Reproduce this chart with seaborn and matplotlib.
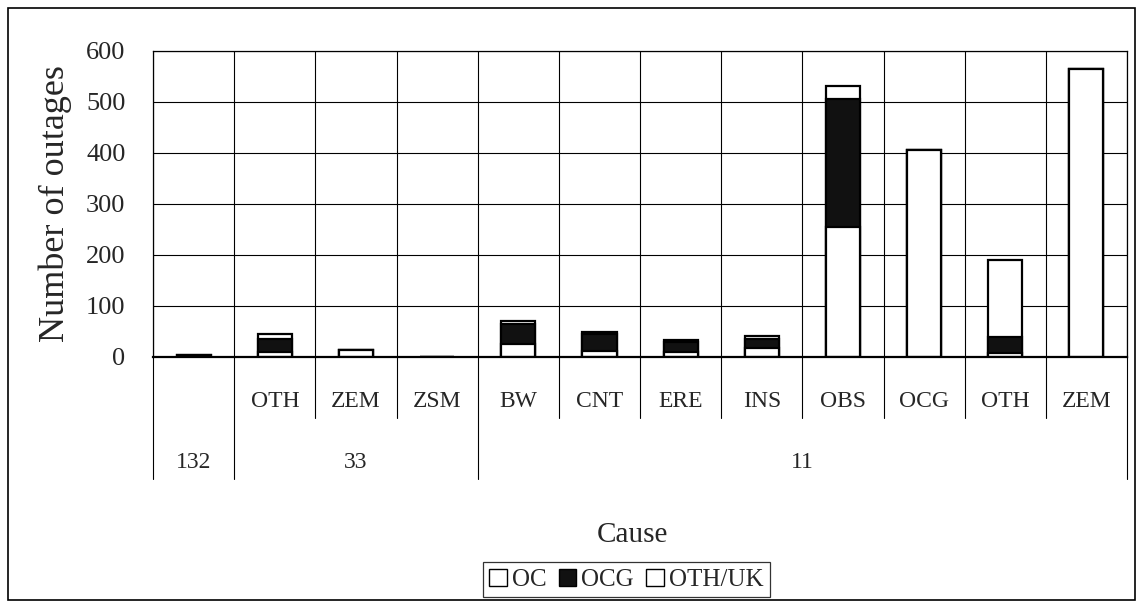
import numpy as np
import pandas as pd
import matplotlib
matplotlib.use('Agg')
import matplotlib.pyplot as plt
import matplotlib.patches as mpatches
import matplotlib.transforms as mtransforms
import seaborn as sns

# data
causes = ['', 'OTH', 'ZEM', 'ZSM', 'BW', 'CNT', 'ERE', 'INS', 'OBS', 'OCG', 'OTH', 'ZEM']
voltage = ['132', '33', '33', '33', '11', '11', '11', '11', '11', '11', '11', '11']
groups = ['132', '33', '11']
oc = [0, 10, 14, 0, 25, 12, 10, 18, 255, 405, 8, 565]
ocg = [4, 25, 0, 0, 40, 33, 20, 18, 250, 0, 32, 0]
oth_uk = [0, 10, 0, 0, 5, 4, 4, 5, 25, 0, 150, 0]

sns.set_style('white')
plt.rcParams['font.family'] = ['Liberation Serif', 'DejaVu Serif']

df = pd.DataFrame({'voltage': voltage, 'cause': causes,
                   'OC': oc, 'OCG': ocg, 'OTH/UK': oth_uk})
df['key'] = df['voltage'] + '-' + df['cause'] + '-' + df.index.astype(str)
df['lvl2'] = df['OC'] + df['OCG']
df['lvl3'] = df['lvl2'] + df['OTH/UK']
keys = list(df['key'])

fig = plt.figure(figsize=(11.43, 6.04), dpi=100)
ax = fig.add_axes([0.134, 0.409, 0.852, 0.507])

edge = dict(edgecolor='black', linewidth=1.6, width=0.42, saturation=1, ax=ax, order=keys)
# stacked by overdrawing the cumulative sums
sns.barplot(data=df, x='key', y='lvl3', color='white', **edge)
sns.barplot(data=df, x='key', y='lvl2', color='#111111', **edge)
sns.barplot(data=df, x='key', y='OC', color='white', **edge)

ax.set_ylim(0, 600)
ax.set_yticks(range(0, 601, 100))
ax.set_xlim(-0.5, len(keys) - 0.5)
ax.set_xticks(range(len(keys)))
ax.set_xticklabels([])
ax.set_xticks(np.arange(-0.5, len(keys), 1), minor=True)
ax.tick_params(axis='both', which='both', length=0)
ax.tick_params(axis='y', labelsize=19, pad=20)
ax.grid(True, axis='y', which='major', color='black', linewidth=0.8)
ax.grid(True, axis='x', which='minor', color='black', linewidth=0.8)
ax.set_axisbelow(True)
ax.set_xlabel('')
ax.set_ylabel('Number of outages', fontsize=26, labelpad=10)
for s in ax.spines.values():
    s.set_color('black')
    s.set_linewidth(0.9)
ax.spines['bottom'].set_linewidth(1.6)

trans = mtransforms.blended_transform_factory(ax.transData, ax.transAxes)
for i, c in enumerate(causes):
    ax.text(i, -0.145, c, transform=trans, ha='center', va='center', fontsize=17)

# separators below the axis
for i in range(len(keys) + 1):
    left = voltage[i - 1] if i > 0 else None
    right = voltage[i] if i < len(keys) else None
    depth = -0.40 if left != right else -0.20
    ax.plot([i - 0.5, i - 0.5], [0, depth], transform=trans, color='black',
            linewidth=0.8, clip_on=False)

for g in groups:
    idx = [i for i, v in enumerate(voltage) if v == g]
    ax.text(np.mean(idx), -0.345, g, transform=trans, ha='center', va='center', fontsize=17)

fig.text(0.553, 0.114, 'Cause', ha='center', va='center', fontsize=21)

handles = [mpatches.Patch(facecolor='white', edgecolor='black', label='OC'),
           mpatches.Patch(facecolor='#111111', edgecolor='black', label='OCG'),
           mpatches.Patch(facecolor='white', edgecolor='black', label='OTH/UK')]
leg = fig.legend(handles=handles, loc='center', bbox_to_anchor=(0.548, 0.04), ncol=3,
                 fontsize=18, frameon=True, fancybox=False, handlelength=0.7,
                 handleheight=0.7, handletextpad=0.2, columnspacing=0.5,
                 borderpad=0.25, edgecolor='black')
leg.get_frame().set_linewidth(0.9)

fig.patches.append(mpatches.Rectangle((0.007, 0.007), 0.986, 0.98, transform=fig.transFigure,
                                      fill=False, edgecolor='black', linewidth=1.2))

fig.savefig('out.png', dpi=100)
